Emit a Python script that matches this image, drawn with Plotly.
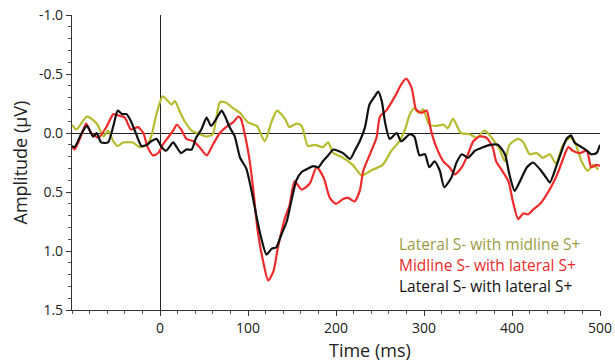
import plotly.graph_objects as go

names = ["Lateral S- with midline S+", "Midline S- with lateral S+", "Lateral S- with lateral S+"]
line_colors = ["#b7bb2e", "#ee2a2a", "#111111"]
text_colors = ["#9c9c44", "#ee2a2a", "#111111"]

t_olive = [-100,-95,-83,-72,-64,-59,-53,-48,-42,-31,-23,-15,-10,-4,3,9,13,17,22,28,36,45,53,60,68,74,83,91,100,110,119,127,133,142,147,155,161,168,176,185,191,197,208,219,229,235,242,253,263,272,278,284,289,294,299,306,314,322,327,333,342,352,360,369,377,386,392,397,407,413,420,428,435,443,450,458,466,471,479,486,492,498]
v_olive = [-0.07,-0.03,-0.14,-0.08,0.03,-0.02,0.07,0.11,0.08,0.08,0.12,0.10,0.03,-0.16,-0.31,-0.27,-0.24,-0.27,-0.19,-0.10,-0.02,0.01,0.03,0.01,-0.26,-0.26,-0.21,-0.17,-0.09,-0.06,0.07,-0.10,-0.19,-0.12,-0.05,-0.08,-0.06,0.11,0.10,0.12,0.08,0.17,0.21,0.27,0.36,0.34,0.31,0.27,0.15,0.07,-0.02,-0.16,-0.21,-0.17,-0.20,-0.07,-0.06,-0.07,-0.04,-0.12,0.00,0.01,0.04,-0.02,0.04,0.14,0.24,0.10,0.05,0.08,0.18,0.17,0.21,0.18,0.26,0.10,0.04,0.07,0.24,0.32,0.27,0.31]

t_red = [-100,-97,-89,-84,-78,-70,-61,-53,-48,-40,-33,-25,-19,-14,-8,-2,3,9,15,19,24,30,38,45,53,60,68,75,83,89,92,98,102,106,111,117,123,129,134,142,147,153,161,170,178,186,193,200,208,214,221,227,231,238,246,250,257,267,274,280,286,291,297,303,308,314,322,329,335,343,350,356,363,371,378,382,388,396,401,407,413,418,424,432,437,445,452,458,464,469,477,485,490,496,500]
v_red = [0.12,0.14,0.01,-0.08,0.00,0.04,-0.05,-0.16,-0.15,-0.13,-0.03,-0.05,0.00,0.12,0.19,0.17,0.10,0.04,-0.02,-0.07,-0.03,0.05,0.07,0.12,0.19,0.10,0.00,-0.05,-0.09,-0.14,-0.12,0.07,0.24,0.48,0.83,1.08,1.25,1.17,0.97,0.72,0.62,0.41,0.48,0.43,0.29,0.38,0.55,0.60,0.56,0.55,0.58,0.49,0.32,0.19,0.04,-0.14,-0.19,-0.31,-0.41,-0.46,-0.38,-0.20,-0.17,-0.19,-0.02,0.12,0.24,0.29,0.35,0.29,0.18,0.07,0.03,0.04,0.12,0.24,0.31,0.41,0.58,0.73,0.68,0.69,0.65,0.60,0.55,0.45,0.34,0.22,0.12,0.15,0.17,0.15,0.29,0.27,0.28]

t_black = [-100,-97,-89,-83,-76,-72,-67,-59,-53,-48,-43,-38,-33,-27,-21,-15,-10,-4,2,7,15,19,24,30,36,41,47,53,58,64,70,74,79,85,91,98,104,110,115,121,127,132,138,144,150,155,161,166,174,180,185,191,197,202,208,216,222,227,233,238,244,248,252,256,261,269,274,284,289,295,301,306,312,318,323,331,337,343,350,358,367,375,384,392,397,403,409,417,424,432,439,443,450,457,462,467,471,477,485,490,496,500]
v_black = [0.11,0.12,0.00,-0.06,0.03,0.00,0.08,0.08,-0.06,-0.19,-0.16,-0.16,-0.10,0.01,0.11,0.10,0.07,0.05,0.12,0.15,0.08,0.12,0.17,0.14,0.14,0.04,-0.03,-0.13,-0.06,-0.12,-0.19,-0.14,-0.05,0.03,0.21,0.30,0.49,0.72,0.89,1.03,0.98,0.97,0.86,0.75,0.55,0.40,0.33,0.31,0.28,0.29,0.24,0.19,0.14,0.15,0.17,0.22,0.14,0.07,-0.05,-0.24,-0.31,-0.35,-0.27,-0.08,0.05,0.00,0.07,0.01,0.03,0.19,0.18,0.29,0.24,0.32,0.46,0.38,0.25,0.18,0.21,0.15,0.12,0.10,0.10,0.18,0.35,0.49,0.41,0.29,0.25,0.31,0.38,0.42,0.29,0.14,0.05,0.02,0.08,0.11,0.15,0.18,0.17,0.10]

x_ticks = [0, 100, 200, 300, 400, 500]
y_ticks = [-1.0, -0.5, 0.0, 0.5, 1.0, 1.5]

series = [(t_olive, v_olive), (t_red, v_red), (t_black, v_black)]
for tt, vv in series:
    assert len(tt) == len(vv), (len(tt), len(vv))

FONT = "Open Sans"
fig = go.Figure()
for (tt, vv), name, col in zip(series, names, line_colors):
    fig.add_trace(go.Scatter(x=tt, y=vv, mode="lines", name=name,
                             line=dict(color=col, width=2.2, shape="spline", smoothing=0.6),
                             showlegend=False))

axis_common = dict(showline=True, linecolor="#333", linewidth=1.2, ticks="outside",
                   ticklen=5, tickcolor="#333", tickwidth=1, showgrid=False,
                   zeroline=True, zerolinecolor="#222", zerolinewidth=1.2, automargin=False,
                   tickfont=dict(family=FONT, size=14, color="#222"))
fig.update_xaxes(range=[-100, 500], tickvals=x_ticks, ticktext=[str(v) for v in x_ticks],
                 minor=dict(dtick=20, ticklen=3, tickcolor="#555", ticks="outside"),
                 **axis_common)
fig.update_yaxes(range=[1.5, -1.0], tickvals=y_ticks, ticktext=[f"{v:.1f}" for v in y_ticks],
                 minor=dict(dtick=0.1, ticklen=3, tickcolor="#555", ticks="outside"),
                 **axis_common)

for i, (name, col) in enumerate(zip(names, text_colors)):
    fig.add_annotation(text=name, xref="paper", yref="paper", x=0.615, y=0.224 - i * 0.072,
                       xanchor="left", yanchor="middle", showarrow=False,
                       font=dict(family=FONT, size=15.5, color=col))

fig.add_annotation(text="Time (ms)", xref="paper", yref="paper", x=0.565, y=-0.136,
                   xanchor="center", yanchor="middle", showarrow=False,
                   font=dict(family=FONT, size=18, color="#222"))
fig.add_annotation(text="Amplitude (µV)", xref="paper", yref="paper", x=-0.0985, y=0.50,
                   xanchor="center", yanchor="middle", showarrow=False, textangle=-90,
                   font=dict(family=FONT, size=18, color="#222"))

fig.update_layout(width=615, height=362, margin=dict(l=72, r=15, t=15, b=52),
                  plot_bgcolor="white", paper_bgcolor="white")
fig.write_html("out.html", config={"displayModeBar": False},
               post_script="document.body.style.margin='0';document.body.style.overflow='hidden';")
